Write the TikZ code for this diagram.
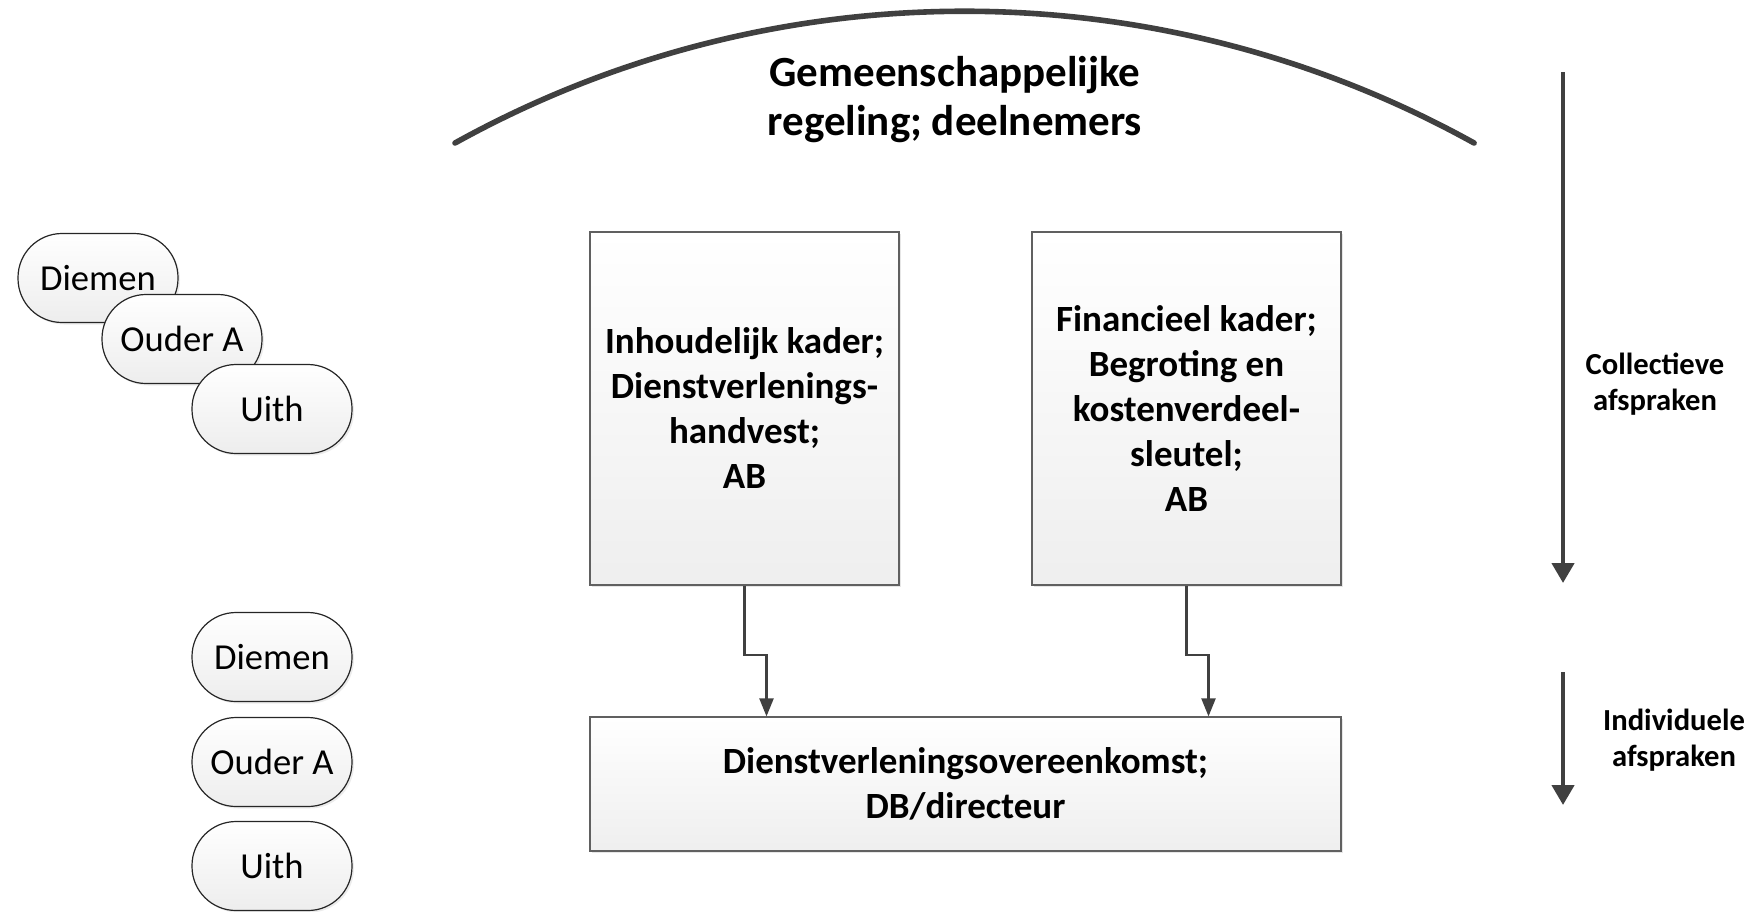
\documentclass[tikz,border=0pt]{standalone}
\usepackage{fontspec}
\setmainfont{Carlito}
\usetikzlibrary{arrows.meta}
\usetikzlibrary{shadows}

\tikzset{
  kader/.style={draw=gray!75!black, line width=0.6pt, top color=white, bottom color=gray!13,
    align=center, inner sep=0pt, font=\fontsize{18.5}{22.5}\selectfont\bfseries,
    drop shadow={shadow xshift=1.2pt, shadow yshift=-1.2pt, opacity=0.2}},
  gemeente/.style={draw=gray!30!black, line width=0.6pt, top color=white, bottom color=gray!14,
    rounded corners=22pt, minimum width=80pt, minimum height=44.5pt, inner sep=0pt,
    font=\fontsize{18.3}{22}\selectfont,
    drop shadow={shadow xshift=1pt, shadow yshift=-1pt, opacity=0.15}},
  verbinding/.style={draw=black!75, line width=1.1pt, -{Triangle[length=9pt, width=7pt]}},
  richting/.style={draw=black!75, line width=2.2pt, -{Triangle[length=10pt, width=11pt]}},
  uitleg/.style={align=center, font=\fontsize{15.3}{18}\selectfont\bfseries}
}

\begin{document}
\begin{tikzpicture}[x=0.5pt, y=-0.5pt]
  \useasboundingbox (0,0) rectangle (1748,911);

  \draw[draw=black!75, line width=2.8pt, line cap=round] (455,143) arc[start angle=-119, end angle=-61, radius=1051];
  \node[align=center, font=\fontsize{21.5}{24.5}\selectfont\bfseries] (gr) at (955,100) {Gemeenschappelijke\\regeling; deelnemers};

  \node[gemeente] (diemen1) at (98,278) {Diemen};
  \node[gemeente] (ouder1) at (182,339) {Ouder A};
  \node[gemeente] (uith1) at (272,409) {Uith};

  \node[gemeente] (diemen2) at (272,657) {Diemen};
  \node[gemeente] (ouder2) at (272,762) {Ouder A};
  \node[gemeente] (uith2) at (272,866) {Uith};

  \node[kader, minimum width=154.5pt, minimum height=176.5pt] (inhoud) at (744.5,408.5)
    {Inhoudelijk kader;\\Dienstverlenings-\\handvest;\\AB};
  \node[kader, minimum width=154.5pt, minimum height=176.5pt] (financieel) at (1186.5,408.5)
    {Financieel kader;\\Begroting en\\kostenverdeel-\\sleutel;\\AB};
  \node[kader, minimum width=375.5pt, minimum height=67pt] (dvo) at (965.5,784)
    {Dienstverleningsovereenkomst;\\DB/directeur};

  \draw[verbinding] (inhoud.south) -- ++(0,69) -| ([xshift=11pt]inhoud.south |- dvo.north);
  \draw[verbinding] (financieel.south) -- ++(0,69) -| ([xshift=11pt]financieel.south |- dvo.north);

  \coordinate (c1) at (1563,72);
  \coordinate (c2) at (1563,583);
  \coordinate (i1) at (1563,672);
  \coordinate (i2) at (1563,805);
  \draw[richting] (c1) -- (c2);
  \draw[richting] (i1) -- (i2);
  \node[uitleg] (collectief) at (1655,384) {Collectieve\\afspraken};
  \node[uitleg] (individueel) at (1674,740) {Individuele\\afspraken};
\end{tikzpicture}
\end{document}
